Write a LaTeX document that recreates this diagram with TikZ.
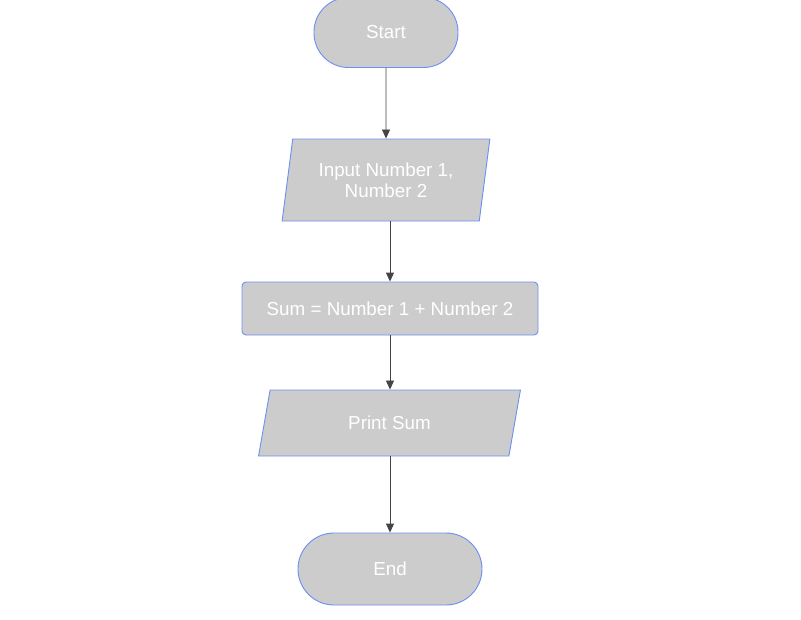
\documentclass[tikz,border=0pt]{standalone}
\usepackage{fontspec}
\setmainfont{Liberation Sans}
\usetikzlibrary{shapes.geometric,arrows.meta}
\definecolor{boxfill}{HTML}{CCCCCC}
\definecolor{boxline}{RGB}{108,142,245}
\definecolor{arrowgray}{HTML}{444444}

\begin{document}
\begin{tikzpicture}[x=1pt,y=-1pt,
    box/.style={draw=boxline,fill=boxfill,text=white,line width=0.9pt,
      font=\fontsize{18.8}{21}\selectfont,align=center,inner sep=0pt},
    io/.style={box,trapezium,trapezium stretches=true},
    flow/.style={draw=arrowgray,line width=0.9pt,-{Triangle[length=9pt,width=8pt]}}]
        % Page size
        \useasboundingbox (0,0) rectangle (801,619);
        % Start and end
        \node[box,minimum width=144pt,minimum height=70pt,rounded corners=34.5pt] (start) at (386,32.5) {Start};
        \node[box,minimum width=184pt,minimum height=72pt,rounded corners=36pt] (end) at (390,569) {End};
        % Input and output
        \node[io,trapezium left angle=77.6,trapezium right angle=102.4,
          minimum width=208pt,minimum height=82pt] (input) at (386,180) {Input Number 1,\\Number 2};
        \node[io,trapezium left angle=73.9,trapezium right angle=106.1,
          minimum width=263pt,minimum height=66pt] (print) at (389.5,423) {Print Sum};
        % Process
        \node[box,minimum width=296pt,minimum height=53pt,rounded corners=4pt] (sum) at (390,308.5) {Sum = Number 1 + Number 2};
        % Arrows
        \draw[flow] (start) -- (input);
        \draw[flow] (sum.north |- input.south) -- (sum);
        \draw[flow] (sum) -- (sum.south |- print.north);
        \draw[flow] (print.south -| end.north) -- (end);
    \end{tikzpicture}
\end{document}
